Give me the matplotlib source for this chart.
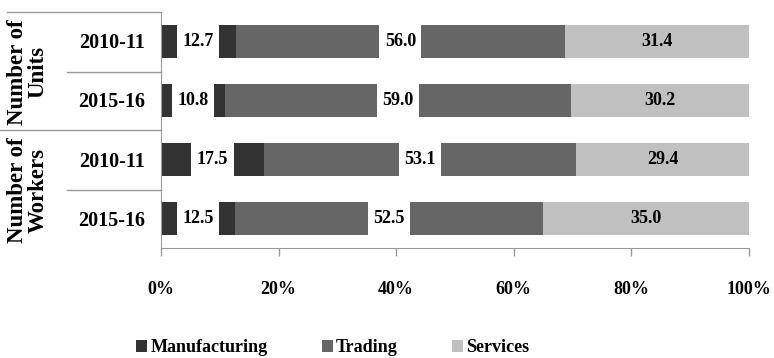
""" stacked share of units and workers by sector """

import matplotlib
matplotlib.use("Agg")
from matplotlib import pyplot as plt
from matplotlib.patches import Patch
from matplotlib.lines import Line2D
from matplotlib.path import Path

years = ["2010-11", "2015-16", "2010-11", "2015-16"]
groups = ["Number of\nUnits", "Number of\nWorkers"]
sectors = ["Manufacturing", "Trading", "Services"]
manufacturing = [12.7, 10.8, 17.5, 12.5]
trading = [56.0, 59.0, 53.1, 52.5]
services = [31.4, 30.2, 29.4, 35.0]
ticks = [0, 20, 40, 60, 80, 100]

COLORS = ["#333333", "#666666", "#c0c0c0"]
FONT = "Liberation Serif"

plt.rcParams["font.family"] = FONT
plt.rcParams["font.weight"] = "bold"


def label_box(x0, y0, width, height, mutation_size):
    """ white box, narrow at the sides, tall enough to cover the bar """
    px, py = 0.3 * mutation_size, 0.55 * mutation_size
    x0, x1 = x0 - px, x0 + width + px
    y0, y1 = y0 - py, y0 + height + py
    return Path([(x0, y0), (x1, y0), (x1, y1), (x0, y1), (x0, y0)], closed=True)


fig = plt.figure(figsize=(7.74, 3.58), dpi=100)
ax = fig.add_axes([161 / 774, 1 - 248 / 358, 588 / 774, 236 / 358])

pos = list(range(len(years)))
left = [0.0] * len(years)
for name, vals, color in zip(sectors, [manufacturing, trading, services], COLORS):
    ax.barh(pos, vals, left=left, height=0.56, color=color, label=name)
    for i, v in enumerate(vals):
        cx = left[i] + v / 2
        if name == "Services":
            ax.text(cx, i, "%.1f" % v, ha="center", va="center", fontsize=13,
                    fontweight="bold")
        else:
            ax.text(cx, i, "%.1f" % v, ha="center", va="center", fontsize=13,
                    fontweight="bold",
                    bbox=dict(boxstyle=label_box, fc="white", ec="none"))
    left = [l + v for l, v in zip(left, vals)]

ax.set_xlim(0, 100)
ax.set_ylim(len(years) - 0.5, -0.5)
ax.set_xticks(ticks)
ax.set_xticklabels(["%d%%" % t for t in ticks], fontsize=13, fontweight="bold")
ax.set_yticks([])
ax.tick_params(axis="x", length=6, width=1, color="#999999", pad=18)
for side in ["top", "right"]:
    ax.spines[side].set_visible(False)
for side in ["left", "bottom"]:
    ax.spines[side].set_color("#999999")

# category table on the left
def hline(y, x0, x1):
    fig.add_artist(Line2D([x0 / 774, x1 / 774], [1 - y / 358, 1 - y / 358],
                          color="#999999", lw=1))

hline(12, 7, 161)
hline(72, 67, 161)
hline(130, 0, 161)
hline(190, 67, 161)

for i, y in enumerate(years):
    fig.text(112 / 774, 1 - (43 + 59.3 * i) / 358, y, ha="center", va="center",
             fontsize=14.5, fontweight="bold")

for g, label in enumerate(groups):
    yc = 1 - (72 + 118 * g) / 358
    fig.text(28 / 774, yc, label, ha="center", va="center", rotation=90,
             fontsize=16.5, fontweight="bold", linespacing=0.95)

handles = [Patch(facecolor=c, edgecolor="none") for c in COLORS]
fig.legend(handles, sectors, loc="center", bbox_to_anchor=(0.43, 0.028),
           ncol=3, frameon=False, handlelength=0.6,
           handleheight=0.6, handletextpad=0.2, columnspacing=3.0,
           prop={"family": FONT, "weight": "bold", "size": 13})

fig.savefig("out.png", dpi=100)
